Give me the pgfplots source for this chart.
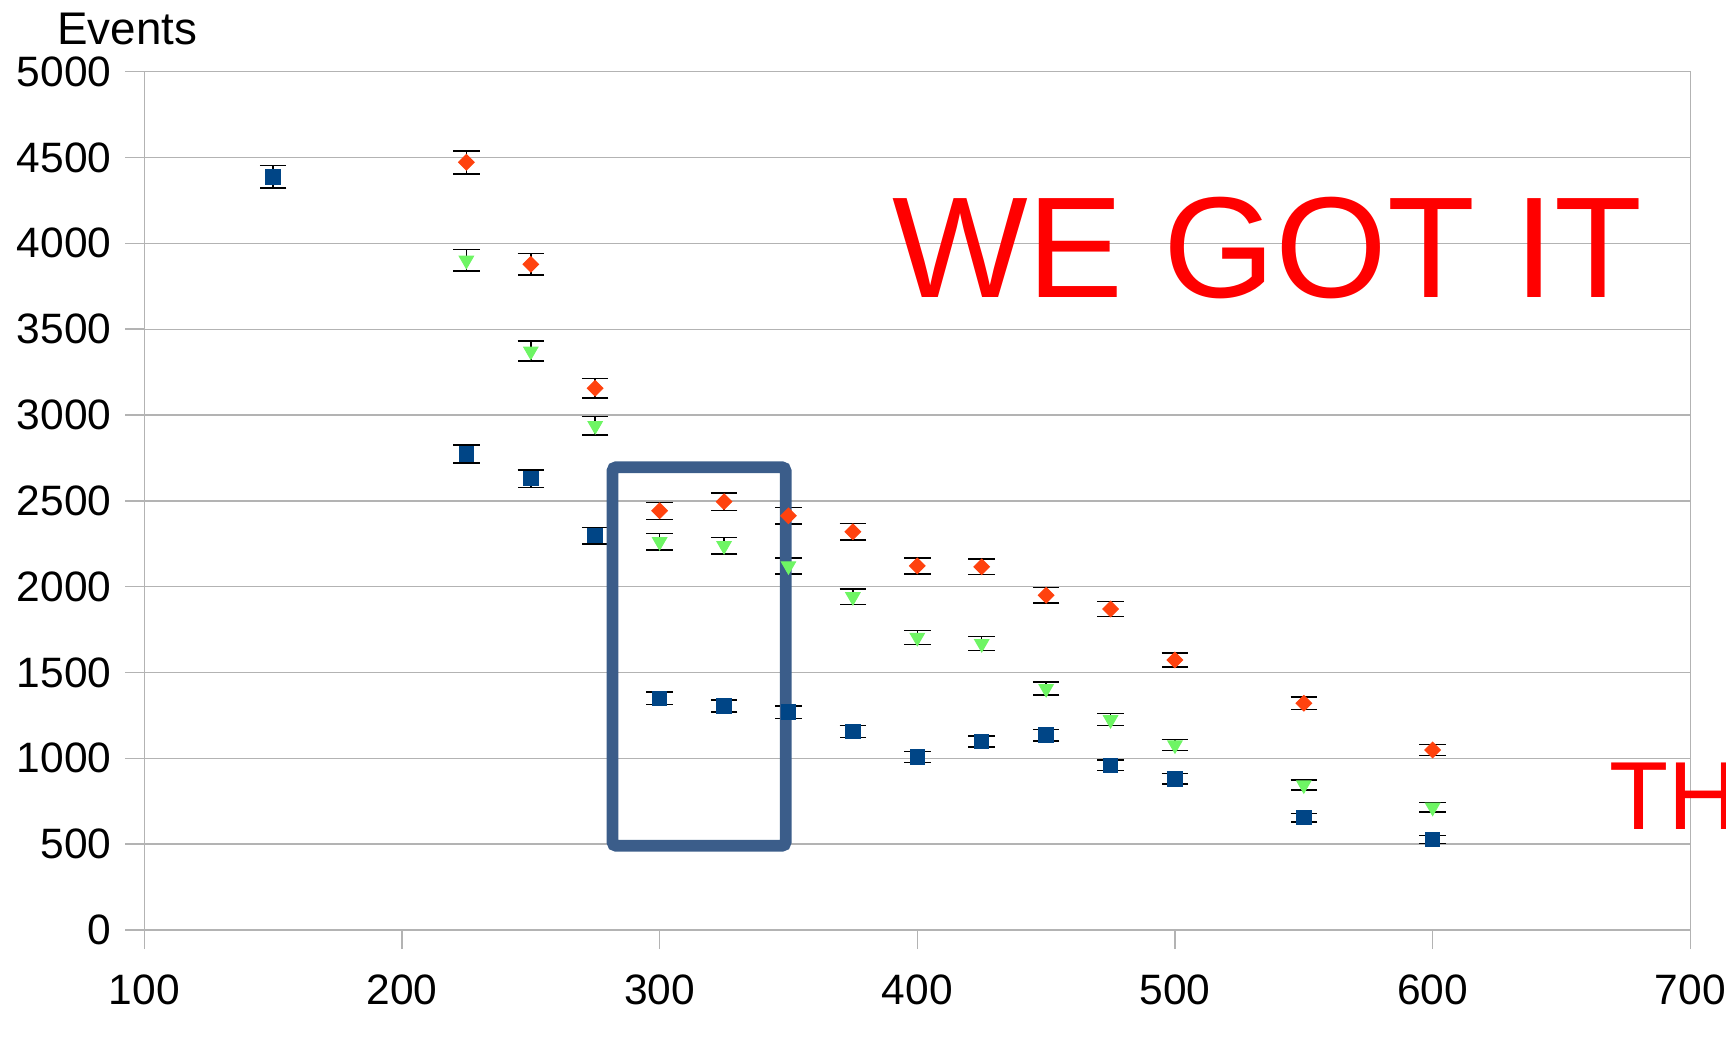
\documentclass[border=0pt]{standalone}
\usepackage{pgfplots}
\pgfplotsset{compat=1.18}
\usepackage{pgfplotstable}
\usepackage{fontspec}
\setmainfont{Liberation Sans}

\definecolor{serA}{HTML}{004586}
\definecolor{serB}{HTML}{FF420E}
\definecolor{serC}{HTML}{6EF564}
\definecolor{gridgray}{HTML}{B3B3B3}
\definecolor{boxblue}{HTML}{3B5D8A}

% columns: mass point, event count, statistical error
\pgfplotstableread{
x y e
150 4388 66.2
225 2774 52.7
250 2629 51.3
275 2298 47.9
300 1350 36.7
325 1305 36.1
350 1269 35.6
375 1156 34.0
400 1008 31.7
425 1098 33.1
450 1135 33.7
475 959 31.0
500 881 29.7
550 654 25.6
600 528 23.0
}\seriesA

\pgfplotstableread{
x y e
225 4472 66.9
250 3878 62.3
275 3156 56.2
300 2442 49.4
325 2495 49.9
350 2413 49.1
375 2320 48.2
400 2121 46.1
425 2116 46.0
450 1950 44.2
475 1870 43.2
500 1573 39.7
550 1321 36.3
600 1049 32.4
}\seriesB

\pgfplotstableread{
x y e
225 3901 62.5
250 3372 58.1
275 2938 54.2
300 2262 47.6
325 2239 47.3
350 2121 46.1
375 1941 44.1
400 1704 41.3
425 1668 40.8
450 1406 37.5
475 1225 35.0
500 1078 32.8
550 845 29.1
600 715 26.7
}\seriesC

\pgfplotsset{
  errstyle/.style={
    error bars/.cd, y dir=both, y explicit,
    error mark=|,
    error bar style={black, line width=0.6pt},
    error mark options={black, mark size=5.3pt, line width=0.6pt},
  },
}

\begin{document}
\begin{tikzpicture}
\path[use as bounding box] (0pt,0pt) rectangle (690.4pt,418pt);
\clip (0pt,0pt) rectangle (690.4pt,418pt);
\begin{axis}[
  at={(57.72pt,46pt)}, anchor=south west,
  scale only axis, width=618.4pt, height=343.32pt,
  xmin=100, xmax=700, ymin=0, ymax=5000,
  xtick={100,200,...,700}, ytick={0,500,...,5000},
  xtick pos=bottom, ytick pos=left,
  tick align=outside, major tick length=7.6pt,
  axis line style={gridgray, line width=0.6pt},
  tick style={gridgray, line width=0.6pt},
  ymajorgrids, grid style={gridgray, line width=0.55pt},
  scaled ticks=false,
  /pgf/number format/set thousands separator={},
  /pgf/number format/assume math mode=true,
  ticklabel style={font=\fontsize{17}{20}\selectfont, text=black},
  yticklabel style={anchor=east, inner sep=0pt, xshift=-5.3pt},
  xticklabel style={anchor=north, inner sep=0pt, yshift=-10pt},
]
% markers first, then the error bars over them
\addplot[only marks, mark=square*, mark size=2.9pt, color=serA]
  table[x=x, y=y] {\seriesA};
\addplot[only marks, mark=square*, mark size=2.2pt, mark options={rotate=45}, color=serB]
  table[x=x, y=y] {\seriesB};
\addplot[only marks, mark=triangle*, mark size=3.3pt, mark options={rotate=180}, color=serC]
  table[x=x, y=y] {\seriesC};
\addplot[draw=none, mark=none, errstyle] table[x=x, y=y, y error=e] {\seriesA};
\addplot[draw=none, mark=none, errstyle] table[x=x, y=y, y error=e] {\seriesB};
\addplot[draw=none, mark=none, errstyle] table[x=x, y=y, y error=e] {\seriesC};
\draw[boxblue, line width=4.7pt, rounded corners=1.5pt]
  (axis cs:281.7,490.5) rectangle (axis cs:348.9,2696);
\end{axis}
\node[anchor=base west, inner sep=0pt, font=\fontsize{18.3}{22}\selectfont] at (22.7pt,400pt) {Events};
\node[anchor=base west, inner sep=0pt, text=red, font=\fontsize{57.5}{60}\selectfont] at (356.6pt,299.1pt) {WE GOT IT};
\node[anchor=base west, inner sep=0pt, text=red, font=\fontsize{38.7}{42}\selectfont] at (643.7pt,86.3pt) {TH};
\end{tikzpicture}
\end{document}
